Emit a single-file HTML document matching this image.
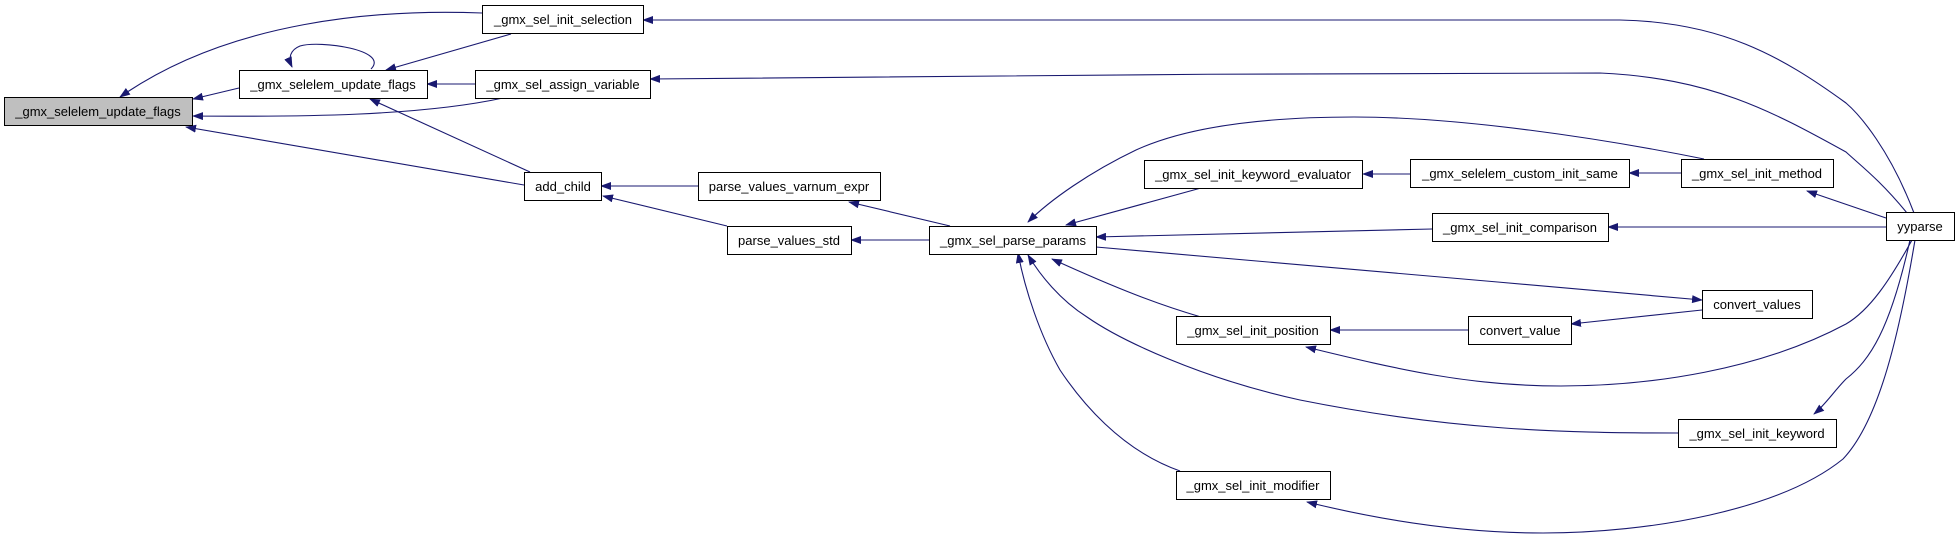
<!DOCTYPE html>
<html><head><meta charset="utf-8"><style>
html,body{margin:0;padding:0;background:#fff;}
svg{display:block;}
text{font-family:"Liberation Sans",sans-serif;font-size:13px;fill:#000;}
</style></head><body>
<svg width="1960" height="541" viewBox="0 0 1960 541" xmlns="http://www.w3.org/2000/svg">
<defs>
<marker id="a" markerWidth="11" markerHeight="8" refX="10" refY="4" orient="auto" markerUnits="userSpaceOnUse">
<path d="M0,0 L11,4 L0,8 Z" fill="#191970"/>
</marker>
</defs>
<g fill="none" stroke="#191970" stroke-width="1.1" marker-end="url(#a)">
<!-- to A -->
<path d="M482,13 C380,9 230,20 120,97"/>
<path d="M239,88 L193,99"/>
<path d="M503,98 C420,116 300,117 193,116"/>
<path d="M524,185 L186,127"/>
<!-- self loop B -->
<path d="M371,69 C390,50 320,40 300,46 C290,50 288,58 292,67"/>
<path d="M511,34 L386,70"/>
<path d="M475,84 L427,84"/>
<path d="M530,172 L370,99"/>
<path d="M698,186 L601,186"/>
<path d="M727,226 L603,196"/>
<path d="M950,226 L849,202"/>
<path d="M929,240 L851,240"/>
<path d="M1201,188 L1066,225"/>
<path d="M1704,159 C1600,138 1460,117 1354,117 C1250,117 1180,130 1136,150 C1090,172 1050,200 1028,222"/>
<path d="M1432,229 L1096,237"/>
<path d="M1096,247 C1300,265 1500,282 1702,300"/>
<path d="M1201,317 C1160,305 1120,290 1052,259"/>
<path d="M1678,433 C1560,433 1450,430 1300,400 C1200,378 1120,340 1087,317 C1060,300 1040,275 1028,255"/>
<path d="M1180,471 C1120,450 1080,400 1060,370 C1040,335 1025,290 1018,253"/>
<path d="M1410,174 L1363,174"/>
<path d="M1681,173 L1629,173"/>
<path d="M1468,330 L1330,330"/>
<path d="M1702,310 L1571,324"/>
<path d="M1914,213 C1890,150 1860,115 1846,103 C1780,55 1720,22 1620,20 L643,20"/>
<path d="M1907,213 C1880,180 1860,165 1846,152 C1770,110 1710,78 1600,73 C1300,73 900,76 650,79"/>
<path d="M1886,218 L1807,191"/>
<path d="M1886,227 L1608,227"/>
<path d="M1912,240 C1890,280 1870,310 1846,324 C1760,370 1650,386 1561,386 C1470,386 1400,370 1306,347"/>
<path d="M1910,240 C1890,330 1870,360 1846,379 C1835,390 1825,405 1814,414"/>
<path d="M1915,240 C1900,330 1880,420 1843,459 C1780,510 1650,533 1543,533 C1460,533 1380,520 1307,502"/>
</g>
<g stroke="#000" stroke-width="1" fill="#fff">
<rect x="4.5" y="97.5" width="188" height="28" fill="#bfbfbf"/>
<rect x="239.5" y="70.5" width="188" height="28"/>
<rect x="482.5" y="5.5" width="161" height="28"/>
<rect x="475.5" y="70.5" width="175" height="28"/>
<rect x="524.5" y="172.5" width="77" height="28"/>
<rect x="698.5" y="172.5" width="182" height="28"/>
<rect x="727.5" y="226.5" width="124" height="28"/>
<rect x="929.5" y="226.5" width="167" height="28"/>
<rect x="1144.5" y="160.5" width="218" height="28"/>
<rect x="1410.5" y="159.5" width="219" height="28"/>
<rect x="1681.5" y="159.5" width="152" height="28"/>
<rect x="1432.5" y="213.5" width="176" height="28"/>
<rect x="1886.5" y="212.5" width="68" height="28"/>
<rect x="1702.5" y="290.5" width="110" height="28"/>
<rect x="1176.5" y="316.5" width="154" height="28"/>
<rect x="1468.5" y="316.5" width="103" height="28"/>
<rect x="1678.5" y="419.5" width="158" height="28"/>
<rect x="1176.5" y="471.5" width="154" height="28"/>
</g>
<g text-anchor="middle">
<text x="98" y="116">_gmx_selelem_update_flags</text>
<text x="333" y="89">_gmx_selelem_update_flags</text>
<text x="563" y="24">_gmx_sel_init_selection</text>
<text x="563" y="89">_gmx_sel_assign_variable</text>
<text x="563" y="191">add_child</text>
<text x="789" y="191">parse_values_varnum_expr</text>
<text x="789" y="245">parse_values_std</text>
<text x="1013" y="245">_gmx_sel_parse_params</text>
<text x="1253" y="179">_gmx_sel_init_keyword_evaluator</text>
<text x="1520" y="178">_gmx_selelem_custom_init_same</text>
<text x="1757" y="178">_gmx_sel_init_method</text>
<text x="1520" y="232">_gmx_sel_init_comparison</text>
<text x="1920" y="231">yyparse</text>
<text x="1757" y="309">convert_values</text>
<text x="1253" y="335">_gmx_sel_init_position</text>
<text x="1520" y="335">convert_value</text>
<text x="1757" y="438">_gmx_sel_init_keyword</text>
<text x="1253" y="490">_gmx_sel_init_modifier</text>
</g>
</svg>
</body></html>
